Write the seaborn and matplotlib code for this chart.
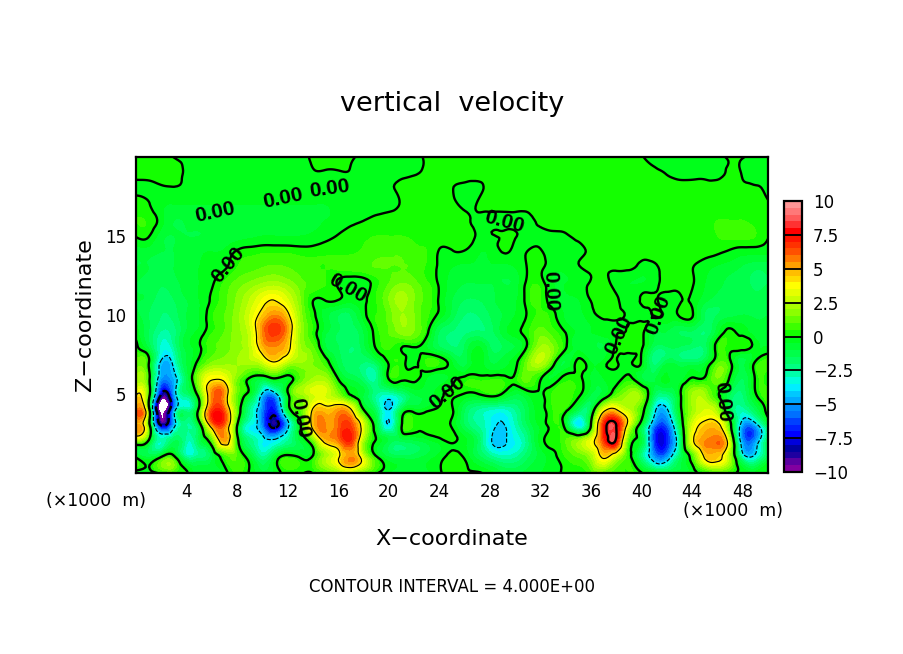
import numpy as np
import matplotlib
matplotlib.use("Agg")
import matplotlib.pyplot as plt
import matplotlib.tri as mtri
from matplotlib.colors import ListedColormap, BoundaryNorm
from matplotlib.cm import ScalarMappable
import seaborn as sns

x_km = list(range(51))
z_km = list(range(21))

z00 = [-0.5,-0.4,0.2,0.3,0.1,-1.0,-1.2,-0.3,0.6,-0.1, -0.8,-0.4,0.3,0.1,0.05,0.8,1.6,1.8,1.0,0.1, -0.5,-0.8,-0.8,-0.6,-0.1,0.2,0.1,0.1,-0.3,-1.0, -1.2,-0.8,-0.5,-0.3,0.2,0.4,0.8,1.0,0.8,0.5, 0.05,-0.5,-1.0,-0.7,-0.2,0.3,0.7,0.4,-0.2,-0.4,-0.3]
z01 = [-0.1,-1.0,0.1,0.4,-2.5,-2.2,-1.2,0.5,0.9,-0.6, -2.4,-0.8,0.4,-0.1,0.2,2.2,3.8,5.5,3.0,0.2, -1.0,-1.2,-1.2,-0.8,-0.3,0.3,-0.1,-1.2,-2.2,-2.8, -2.6,-1.6,-0.8,-0.2,0.5,1,2,4.2,2.5,0.4, -2.2,-5,-5,-1.8,0.6,4.2,4.5,2,-3,-3.5,-1.2]
z02 = [1.5,-0.3,-3,-1.5,-2.8,-1.5,0.8,5,0.5,-2.2, -3.5,-3.6,-2.5,-1,1,4.5,5.5,6.8,2,-0.1, -1.2,-1.5,-1.2,-0.8,-0.3,0.1,-0.4,-1.5,-3.8,-4.2, -3.5,-2.2,-0.3,0.2,1,2,3.5,6.5,7.5,0.8, -1,-6.5,-7,-2.5,3.5,5.5,6,2.5,-5,-5,-1.5]
z03 = [5,1,-8,-4.5,-2.5,-0.8,5,5.8,0,-3.5, -5.5,-8.5,-4.5,-0.2,4.5,5.5,6,6.5,3,-0.8, -3.8,-0.1,0.4,0.4,0.3,-0.1,-1.5,-2.5,-3.5,-4.1, -3,-1.5,-0.4,0.3,-0.6,-3.8,0.1,7,8,3, -1,-5.5,-6,-1.5,3,4.5,4.5,0.5,-5,-4.8,-1.5]
z04 = [5.5,1,-11,-5,-2.5,0.5,6.5,6,1.2,-2.5, -5.5,-7,-1,1,4.2,4.6,5.2,4.2,0.05,-1.8, -4,-1.2,-0.4,-0.2,0.2,0.1,-1.5,-2.5,-3,-3.2, -2.5,-1.2,-0.2,0.5,0.3,-1.5,-1.2,3.4,4.1,2.5, 0.6,-3.5,-4.2,-0.5,2,3,2,-1.5,-2.8,-1.5,0.5]
z05 = [3.8,0.8,-8,-5,-2,0.8,5.5,5.2,1.2,-0.5, -4.2,-4.5,-0.2,2,3,3,1.5,-0.1,-1,-2.5, -3,-2.2,-1,-0.8,-0.2,0.1,-0.05,-0.05,0.4,-0.1, -1,-0.4,-0.1,0.6,0.8,0.2,-1,-0.8,0.8,2, 1.5,-1.5,-2,-0.3,2,2,0.2,-1.5,-2,-0.1,0.8]
z06 = [2,0.5,-5,-4.5,-1.5,2,3.8,3.5,1.5,-0.1, -0.8,0.05,-0.4,1,2,2,-0.1,-1.2,-2,-2.5, 0.1,0.2,0.2,-0.5,-0.8,-0.3,0.2,0.3,0.3,0.3, 0.2,1.2,0.1,-0.5,0.3,0.2,-0.6,-0.5,-0.3,0.2, -1,-1.2,-0.4,-0.8,0.05,0.1,1.5,-0.2,-1.5,0.1,0.1]
z07 = [1,0.1,-4.3,-3.5,-1,0.3,1.5,1.8,2,2.2, 2.8,3.9,2.5,2,1.5,0.5,-1.2,-1.8,-2,-1.5, 0.1,0.3,-0.2,0.6,0.5,-0.5,-1.2,-0.2,-1,-0.8, -0.2,1.5,2.5,0.5,-1,0.2,-0.5,-0.3,0.1,-0.2, -0.1,-2.2,-1.2,-1.5,-1.5,-1,0.8,0.2,-1.2,0.1,0.8]
z08 = [0.2,-1.2,-3.2,-2.5,-0.8,-0.1,0.8,1.2,1.8,2.6, 4.8,5.5,4.5,2,1,-1,-1.5,-2,-1.2,0.1, 0.6,0.05,0.05,-0.5,-1.5,-2,-1.5,-0.5,-1.5,-1.5, -1,0.2,2,1.5,0.1,-0.8,-0.8,-1,0.1,0.2, 0.1,-1.5,-1.5,-1.5,-1.8,-1.8,0.4,0.3,0.4,-0.3,-0.5]
z09 = [-0.3,-1.5,-2.5,-2.2,-1,-0.4,0.4,1,1.8,2.8, 5.5,6.8,5.2,2,0.4,-0.8,-1.5,-1.8,-1,0.3, 1,1.8,1.5,0.3,-1.5,-2,-2.2,-2,-1.8,-0.8, -0.2,0.4,1.2,0.6,-0.1,-0.6,-0.5,-0.2,-0.05,0.1, 0.2,-0.8,-1,-1.5,-1.5,-2,-0.8,0.1,-0.3,-0.8,-0.8]
z10 = [-0.8,-1.5,-2,-1.8,-1,-0.5,0.4,1,1.8,3, 4.5,5.5,4.3,1.8,0.2,-0.8,-1.5,-1.5,-0.3,0.5, 1.2,2,1.5,0.6,-0.2,-1.2,-2,-2,-1.5,-1, -0.5,0.1,0.6,0.2,-0.6,-0.7,-0.2,0.1,0.1,-0.1, -0.2,0.05,-0.1,0.1,0.1,-1.5,-1.5,-1.2,-1,-1.2,-1]
z11 = [-1,-1.2,-1.8,-1.5,-1,-0.5,0.1,0.8,1.6,2.5, 3.5,3.9,3,1.5,0.05,0.1,0.05,-0.3,-0.1,0.5, 1.5,2.2,1.5,0.8,-0.1,-1,-1.5,-1.5,-1.2,-0.8, -0.6,0.3,0.5,-0.5,-0.6,-0.5,0.05,0.2,0.1,-0.4, 0.1,0.1,-0.2,-0.1,-0.1,-0.8,-1.2,-1.2,-1.2,-1.4,-1.2]
z12 = [-1,-1.2,-1.4,-1.2,-0.8,-0.5,-0.1,0.6,1.2,1.6, 2,2.2,1.8,1.2,0.8,0.5,-0.1,-0.4,-0.3,0.3, 1,1.5,1.2,0.6,-0.1,-0.7,-1,-1,-1,-1, -0.8,0.2,0.3,-0.5,-0.5,-0.3,0.1,0.3,-0.3,-0.5, -0.5,-0.2,0.2,0.2,0.05,-0.5,-0.9,-1.1,-1.3,-1.6,-1.5]
z13 = [-1,-1,-1.1,-1,-0.8,-0.5,-0.3,-0.1,0.5,0.8, 1,1.1,1,0.8,0.6,0.5,0.6,0.7,0.8,1, 1,1,0.9,0.4,-0.1,-0.5,-0.6,-0.6,-0.6,-0.7, -0.5,0.05,0.1,-0.3,-0.3,-0.05,0.1,0.1,0.1,0.1, -0.2,-0.1,0.1,0.1,0.02,-0.3,-0.6,-0.8,-1.1,-1.4,-1.3]
z14 = [-0.8,-0.8,-1,-1,-0.8,-0.6,-0.5,-0.4,0.1,0.3, 0.4,0.4,0.4,0.3,0.3,0.4,0.4,0.4,0.6,0.8, 0.9,0.9,0.7,0.5,-0.05,-0.05,-0.05,-0.4,-0.4,0.02, -0.1,0.02,0.05,-0.2,-0.15,-0.1,0.1,0.2,0.2,0.2, 0.2,0.2,0.2,0.2,0.2,0.2,0.1,-0.1,-0.3,-0.3,-0.4]
z15 = [0.05,0.05,-0.8,-1,-1,-1,-0.9,-0.8,-0.7,-0.6, -0.5,-0.5,-0.5,-0.5,-0.4,-0.2,0.05,0.3,0.4,0.5, 0.5,0.5,0.4,0.3,0.3,0.3,0.3,-0.05,-0.05,0.02, 0.02,-0.1,-0.1,-0.1,-0.05,0.1,0.2,0.2,0.2,0.2, 0.2,0.2,0.2,0.2,0.2,0.3,0.5,0.6,0.6,0.5,0.05]
z16 = [0.5,0.4,-0.3,-1,-0.9,-0.8,-0.8,-0.8,-0.7,-0.7, -0.7,-0.7,-0.6,-0.6,-0.6,-0.5,-0.4,-0.2,-0.02,0.2, 0.3,0.3,0.3,0.3,0.3,0.2,0.1,-0.1,-0.1,-0.1, -0.1,-0.1,0.1,0.2,0.2,0.2,0.2,0.2,0.2,0.2, 0.2,0.2,0.2,0.2,0.2,0.3,0.5,0.5,0.5,0.4,0.3]
z17 = [0.3,0.05,-0.4,-0.5,-0.5,-0.5,-0.5,-0.5,-0.5,-0.5, -0.5,-0.5,-0.5,-0.5,-0.5,-0.5,-0.4,-0.4,-0.4,-0.3, -0.2,0.05,0.2,0.2,0.1,0.1,-0.1,0.02,0.1,0.1, 0.1,0.1,0.2,0.2,0.2,0.2,0.2,0.2,0.2,0.2, 0.2,0.2,0.2,0.2,0.2,0.2,0.3,0.3,0.3,0.3,0.1]
z18 = [-0.2,-0.2,-0.1,-0.05,-0.1,-0.2,-0.2,-0.2,-0.2,-0.2, -0.2,-0.2,-0.2,-0.2,-0.2,-0.2,-0.2,-0.2,-0.1,-0.05, -0.05,0.1,0.2,0.2,0.2,0.02,-0.1,-0.1,0.1,0.1, 0.15,0.15,0.15,0.15,0.15,0.15,0.15,0.15,0.15,0.15, 0.15,0.15,0.15,0.15,0.15,0.15,0.15,0.1,0.05,0.05,-0.1]
z19 = [0.3,0.3,0.4,0.3,-0.1,-0.1,-0.1,-0.1,-0.1,-0.1, -0.1,-0.1,-0.1,-0.1,-0.02,-0.02,-0.02,-0.02,-0.1,-0.1, -0.1,-0.1,-0.05,0.1,0.2,0.2,0.2,0.15,0.15,0.15, 0.15,0.15,0.15,0.15,0.15,0.15,0.15,0.15,0.15,0.1, 0.1,0.05,-0.02,-0.1,-0.1,-0.1,-0.1,0.05,-0.02,-0.1,-0.1]
z20 = [0.4,0.4,0.4,-0.02,-0.1,-0.1,-0.1,-0.1,-0.1,-0.1, -0.1,-0.1,-0.1,-0.1,0.05,0.1,0.1,0.05,-0.1,-0.1, -0.1,-0.1,-0.1,0.05,0.15,0.15,0.15,0.15,0.15,0.15, 0.15,0.15,0.15,0.15,0.15,0.15,0.15,0.15,0.15,0.1, 0.02,-0.1,-0.1,-0.1,-0.1,-0.1,-0.1,0.05,0.02,-0.1,-0.1]

band_colors = [
    "#8200a0", "#5a00a0", "#1e00a0", "#0000a0",
    "#0000dc", "#0000ff", "#0020ff", "#0040ff",
    "#0070ff", "#008cff", "#00aaff", "#00c8ff",
    "#00eeff", "#00ffdc", "#00ffaa", "#00ff82",
    "#00ff64", "#00ff4a", "#00ff32", "#00ff1a",
    "#14ff00", "#3cff00", "#64ff00", "#8cff00",
    "#aaff00", "#c8ff00", "#e6ff00", "#ffff00",
    "#ffdc00", "#ffbe00", "#ffa000", "#ff7800",
    "#ff5000", "#ff3200", "#ff1400", "#ff0000",
    "#ff3232", "#ff5a5a", "#ff7878", "#ff9696",
]
contour_levels = [-8, -4, 0, 4, 8]
contour_widths = [1.7, 0.8, 1.7, 0.8, 1.7]
contour_styles = ["dashed", "dashed", "solid", "solid", "solid"]
colorbar_ticks = [-10, -7.5, -5, -2.5, 0, 2.5, 5, 7.5, 10]
colorbar_labels = ["\u221210", "\u22127.5", "\u22125", "\u22122.5", "0", "2.5", "5", "7.5", "10"]
x_major = list(range(4, 49, 4))
z_major = [5, 10, 15]
label_text = "0.00"
label_x = [6.2, 11.6, 15.3, 7.3, 16.7, 13.0, 24.6, 29.1, 32.8, 38.2, 41.3, 46.4]
label_z = [16.5, 17.4, 18.0, 13.2, 11.7, 3.5, 5.1, 15.9, 11.5, 8.7, 10.0, 4.5]
label_rot = [12, 12, 8, 50, -30, -80, 40, -15, -88, 65, 70, -85]

sns.set_theme(style="ticks", rc={"font.family": "DejaVu Sans"})

W, H = 904, 654
fig = plt.figure(figsize=(W / 100, H / 100), dpi=100)
ax = fig.add_axes([136 / W, (H - 473) / H, 632 / W, 316 / H])
cax = fig.add_axes([784 / W, (H - 472) / H, 18 / W, 271 / H])

field = np.array([z00, z01, z02, z03, z04, z05, z06, z07, z08, z09, z10,
                  z11, z12, z13, z14, z15, z16, z17, z18, z19, z20])
bounds = np.linspace(-10, 10, len(band_colors) + 1)
cmap = ListedColormap(sns.color_palette(band_colors))
cmap.set_under("white")
cmap.set_over("white")
norm = BoundaryNorm(bounds, cmap.N)

# matplotlib's own triangular refiner draws smooth contours through the read values
gx, gz = np.meshgrid(x_km, z_km)
tri = mtri.Triangulation(gx.ravel().astype(float), gz.ravel().astype(float))
refiner = mtri.UniformTriRefiner(tri)
fine_tri, fine_field = refiner.refine_field(field.ravel(), subdiv=3)

ax.tricontourf(fine_tri, fine_field, levels=bounds, cmap=cmap, norm=norm, extend="both")
ax.tricontour(fine_tri, fine_field, levels=contour_levels, colors="black",
              linewidths=contour_widths, linestyles=contour_styles)

for tx, tz, rot in zip(label_x, label_z, label_rot):
    ax.text(tx, tz, label_text, rotation=rot, ha="center", va="center",
            rotation_mode="anchor", fontsize=15, fontweight="bold",
            family="Liberation Sans", color="black")

ax.set_xlim(0, 50)
ax.set_ylim(0, 20)
ax.set_xticks(x_major)
ax.set_xticks(range(2, 50, 2), minor=True)
ax.set_yticks(z_major)
ax.set_yticks(range(1, 20), minor=True)
ax.tick_params(which="major", direction="in", top=True, right=True, length=6,
               width=1.2, labelsize=12, color="black", labelcolor="black", pad=7)
ax.tick_params(which="minor", direction="in", top=True, right=True, length=3,
               width=1.0, color="black")
for s in ax.spines.values():
    s.set_linewidth(1.6)
    s.set_color("black")

cb = fig.colorbar(ScalarMappable(norm=norm, cmap=cmap), cax=cax, spacing="proportional",
                  ticks=colorbar_ticks, extend="neither", drawedges=False)
cb.ax.minorticks_off()
cb.ax.set_yticks(colorbar_ticks, labels=colorbar_labels)
cb.ax.tick_params(which="both", length=0, labelsize=12, pad=8, labelcolor="black")
cb.outline.set_linewidth(1.6)
cb.outline.set_edgecolor("black")
for t in colorbar_ticks:
    cax.axhline(t, color="black", lw=1.3)

def put(px, py, s, **kw):
    fig.text(px / W, 1 - py / H, s, ha="center", va="center", color="black", **kw)

put(452, 104, "vertical  velocity", fontsize=19.5)
put(452, 539, "X\u2212coordinate", fontsize=16)
put(85, 315, "Z\u2212coordinate", fontsize=16, rotation=90)
put(96, 501, "(\u00d71000  m)", fontsize=12.5)
put(733, 511, "(\u00d71000  m)", fontsize=12.5)
put(452, 587, "CONTOUR INTERVAL = 4.000E+00", fontsize=12)

sns.despine(fig=fig, top=False, right=False)
fig.savefig("out.png", dpi=100, facecolor="white")
